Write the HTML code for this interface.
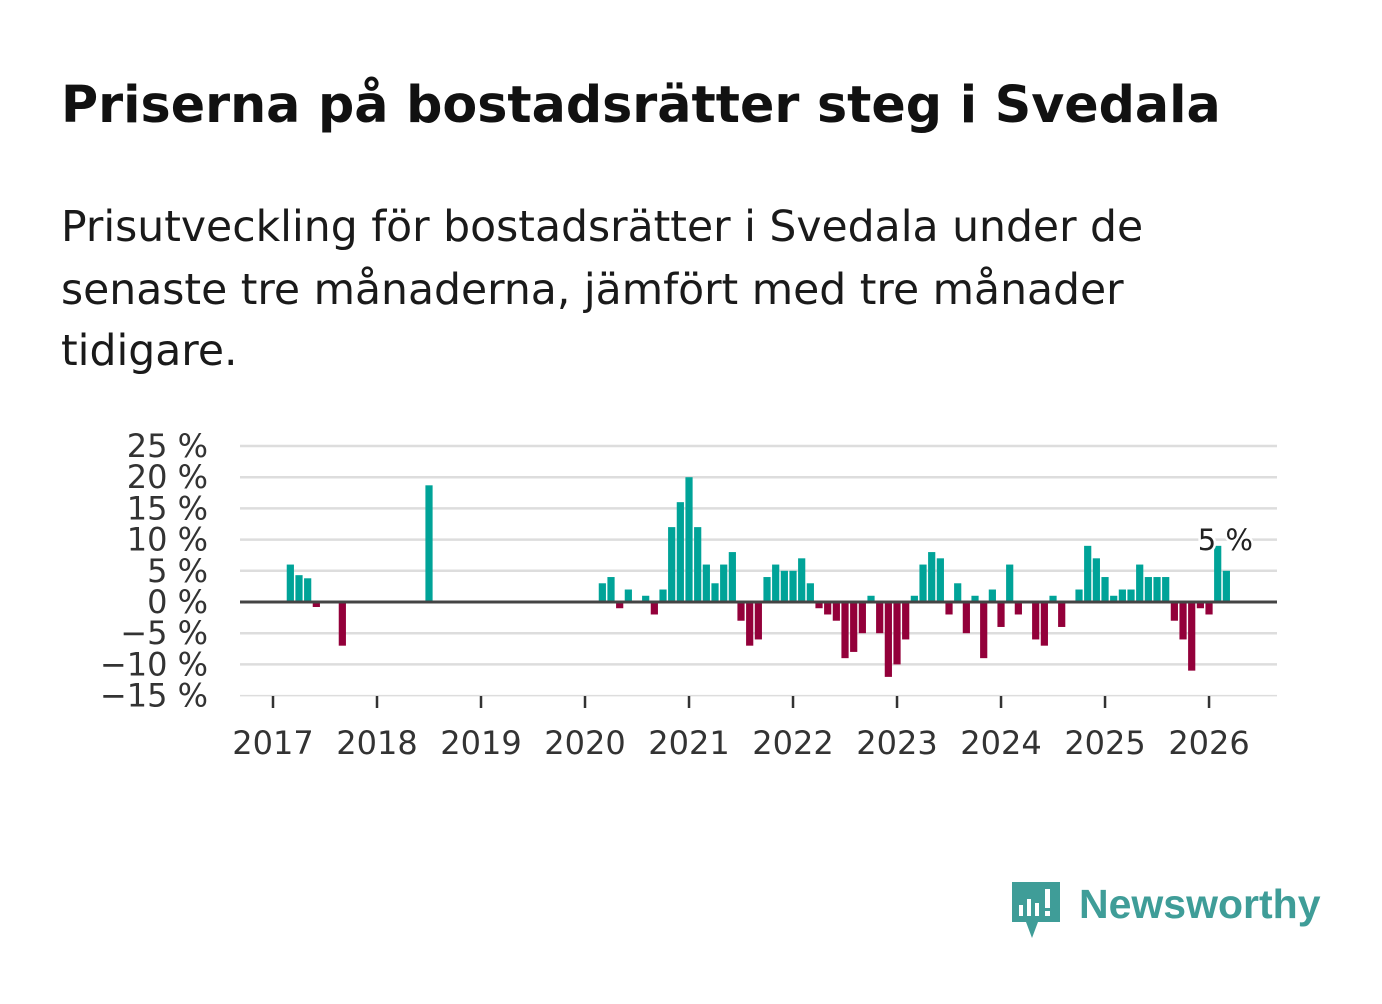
<!DOCTYPE html>
<html><head><meta charset="utf-8">
<style>
body{margin:0;background:#fff;width:1382px;height:999px;overflow:hidden;font-family:"Liberation Sans","DejaVu Sans",sans-serif;}
svg text{font-family:"DejaVu Sans","Liberation Sans",sans-serif;}
</style></head><body>
<svg id="page" width="1382" height="999" viewBox="0 0 1382 999">
<text x="61" y="122" font-size="50.7" font-weight="bold" fill="#111">Priserna på bostadsrätter steg i Svedala</text>
<g font-size="42.5" fill="#1a1a1a">
<text x="61" y="241">Prisutveckling för bostadsrätter i Svedala under de</text>
<text x="61" y="304">senaste tre månaderna, jämfört med tre månader</text>
<text x="61" y="365">tidigare.</text>
</g>
<g id="grid"></g>
<g id="ylabels"></g>
<g id="bars"></g>
<g id="xaxis"></g>
<g id="annot"></g>
<g>
<path d="M1012 882 h48 v40 h-22 l-6 16 l-6 -16 h-14 z" fill="#3f9d98"/>
<rect x="1019" y="905" width="4" height="11" fill="#fff"/>
<rect x="1027" y="899" width="4" height="17" fill="#fff"/>
<rect x="1035" y="903" width="4" height="13" fill="#fff"/>
<rect x="1045" y="889" width="5" height="19" fill="#fff"/>
<rect x="1045" y="911" width="5" height="5" fill="#fff"/>
<text x="1079" y="918" font-size="41" font-weight="bold" fill="#3f9d98" style="font-family:'Liberation Sans',sans-serif">Newsworthy</text>
</g>
</svg>
<script>
const months = [2,3,4,5,8,18,38,39,40,41,43,44,45,46,47,48,49,50,51,52,53,54,55,56,57,58,59,60,61,62,63,64,65,66,67,68,69,70,71,72,73,74,75,76,77,78,79,80,81,82,83,84,85,86,88,89,90,91,93,94,95,96,97,98,99,100,101,102,103,104,105,106,107,108,109,110];
const values = [6,4.3,3.8,-0.8,-7,18.7,3,4,-1,2,1,-2,2,12,16,20,12,6,3,6,8,-3,-7,-6,4,6,5,5,7,3,-1,-2,-3,-9,-8,-5,1,-5,-12,-10,-6,1,6,8,7,-2,3,-5,1,-9,2,-4,6,-2,-6,-7,1,-4,2,9,7,4,1,2,2,6,4,4,4,-3,-6,-11,-1,-2,9,5];
const yTicks = [25,20,15,10,5,0,-5,-10,-15];
const yTickLabels = ["25 %","20 %","15 %","10 %","5 %","0 %","−5 %","−10 %","−15 %"];
const years = ["2017","2018","2019","2020","2021","2022","2023","2024","2025","2026"];
const lastLabel = "5 %";

const NS="http://www.w3.org/2000/svg";
const x0=273, step=8.667, y0=602, ppu=6.24, left=240, right=1277;
const xs=m=>x0+m*step;
const ys=v=>y0-v*ppu;
function mk(tag,attrs,parent){const e=document.createElementNS(NS,tag);for(const k in attrs)e.setAttribute(k,attrs[k]);parent.appendChild(e);return e;}
const grid=document.getElementById('grid'),yl=document.getElementById('ylabels'),bars=document.getElementById('bars'),xa=document.getElementById('xaxis'),an=document.getElementById('annot');
yTicks.forEach((t,i)=>{
  if(t!==0){const l=mk('line',{x1:left,x2:right,y1:ys(t),y2:ys(t),stroke:'#dddddd','stroke-width':t===-15?1.5:2.5},grid);
  
  }
  const tx=mk('text',{x:208,y:ys(t)+11,'font-size':32,'text-anchor':'end',fill:'#333'},yl);
  tx.textContent=yTickLabels[i];
  
  
});
months.forEach((m,i)=>{
  const v=values[i];
  const r=mk('rect',{x:xs(m)-3.6,width:7.2,y:Math.min(ys(v),y0),height:Math.abs(v*ppu),fill:v>=0?'#00a398':'#93003a'},bars);
  
  
});
const zl=mk('line',{x1:left,x2:right,y1:y0,y2:y0,stroke:'#444','stroke-width':3},xa);


years.forEach((y,i)=>{
  const x=xs(i*12);
  const t=mk('line',{x1:x,x2:x,y1:696,y2:708,stroke:'#333','stroke-width':2.5},xa);
  
  
  const tx=mk('text',{x:x,y:754,'font-size':32,'text-anchor':'middle',fill:'#333'},xa);
  tx.textContent=y;
  
  
});
const lm=months[months.length-1], lv=values[values.length-1];
const al=mk('text',{x:xs(lm)-1,y:ys(lv)-21,'font-size':29,'text-anchor':'middle',fill:'#222',stroke:'#fff','stroke-width':5,'paint-order':'stroke'},an);
al.textContent=lastLabel;


</script>
</body></html>
